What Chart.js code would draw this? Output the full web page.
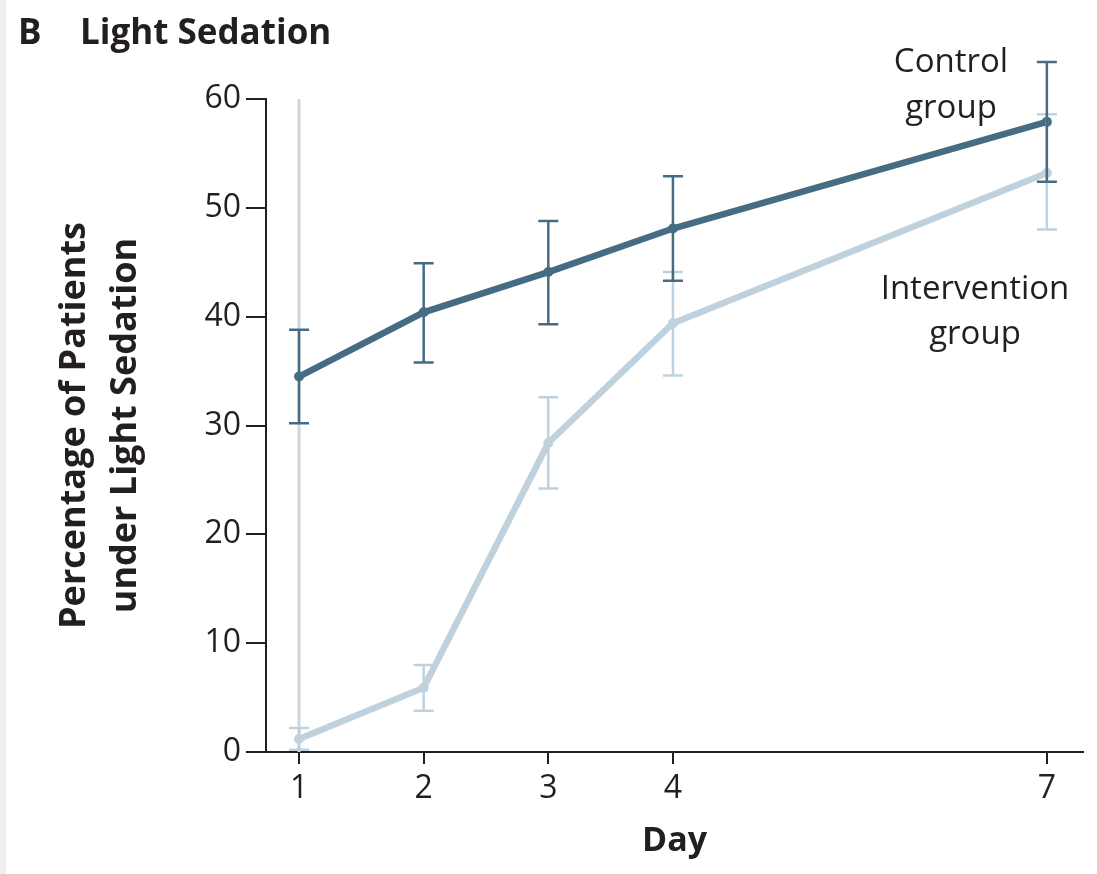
<!DOCTYPE html>
<html>
<head>
<meta charset="utf-8">
<title>Light Sedation</title>
<script src="https://cdn.jsdelivr.net/npm/chart.js@4.4.0/dist/chart.umd.min.js"></script>
<style>
  html, body { margin: 0; padding: 0; background: #fff; }
  canvas { display: block; }
</style>
</head>
<body>
<canvas id="myChart" width="1097" height="874"></canvas>
<script>
'use strict';

const days = [1, 2, 3, 4, 7];
const dayTicks = [1, 2, 3, 4, 7];
const yTicks = [0, 10, 20, 30, 40, 50, 60];

const controlMean = [34.5, 40.4, 44.1, 48.1, 57.9];
const controlLow = [30.2, 35.8, 39.3, 43.3, 52.4];
const controlHigh = [38.8, 44.9, 48.8, 52.9, 63.4];

const interventionMean = [1.2, 5.9, 28.4, 39.4, 53.2];
const interventionLow = [0.2, 3.8, 24.2, 34.6, 48.0];
const interventionHigh = [2.2, 8.0, 32.6, 44.1, 58.6];

// the faint vertical rule running up from day 1
const guideDay = 1;
const guideRange = [0, 60];

const darkBlue = '#466c84';
const lightBlue = '#bfd1dd';
const guideGrey = '#d3d6d9';
const inkColor = '#231f20';
const fontFamily = '"Open Sans", "DejaVu Sans", sans-serif';

const ctx = document.getElementById('myChart').getContext('2d');

function toPoints(xs, ys) {
  let pts = [];
  for (let i = 0; i < xs.length; i++) {
    pts.push({ x: xs[i], y: ys[i] });
  }
  return pts;
}

// error bars, drawn through the chart's scales
const errorBars = {
  id: 'errorBars',
  afterDatasetsDraw(chart) {
    const x = chart.scales.x;
    const y = chart.scales.y;
    const c = chart.ctx;
    const sets = [
      { low: interventionLow, high: interventionHigh, color: lightBlue },
      { low: controlLow, high: controlHigh, color: darkBlue }
    ];
    c.save();
    c.lineWidth = 2.5;
    for (let s of sets) {
      c.strokeStyle = s.color;
      for (let i = 0; i < days.length; i++) {
        let px = x.getPixelForValue(days[i]);
        let top = y.getPixelForValue(s.high[i]);
        let bot = y.getPixelForValue(s.low[i]);
        c.beginPath();
        c.moveTo(px, top);
        c.lineTo(px, bot);
        c.moveTo(px - 10, top);
        c.lineTo(px + 10, top);
        c.moveTo(px - 10, bot);
        c.lineTo(px + 10, bot);
        c.stroke();
      }
    }
    c.restore();
  }
};

// panel title and the in-plot group labels
const labels = {
  id: 'labels',
  beforeDraw(chart) {
    const c = chart.ctx;
    c.save();
    c.fillStyle = '#fff';
    c.fillRect(0, 0, chart.width, chart.height);
    c.fillStyle = '#efefef';
    c.fillRect(0, 0, 6, chart.height);
    c.restore();
  },
  afterDraw(chart) {
    const c = chart.ctx;
    c.save();
    c.fillStyle = inkColor;
    c.textBaseline = 'alphabetic';
    c.textAlign = 'left';
    c.font = 'bold 35px ' + fontFamily;
    c.fillText('B', 18, 44);
    c.fillText('Light Sedation', 80, 44);

    c.font = '33px ' + fontFamily;
    c.textAlign = 'center';
    c.fillText('Control', 951, 72);
    c.fillText('group', 951, 118);
    c.fillText('Intervention', 975, 299);
    c.fillText('group', 975, 344);
    c.restore();
  }
};

const myChart = new Chart(ctx, {
  type: 'line',
  data: {
    datasets: [
      {
        label: 'Control group',
        data: toPoints(days, controlMean),
        borderColor: darkBlue,
        backgroundColor: darkBlue,
        borderWidth: 6.5,
        pointRadius: 5,
        pointBorderWidth: 0,
        clip: false,
        order: 1
      },
      {
        label: 'Intervention group',
        data: toPoints(days, interventionMean),
        borderColor: lightBlue,
        backgroundColor: lightBlue,
        borderWidth: 6.5,
        pointRadius: 5,
        pointBorderWidth: 0,
        clip: false,
        order: 2
      },
      {
        label: 'guide',
        data: toPoints([guideDay, guideDay], guideRange),
        borderColor: guideGrey,
        borderWidth: 3,
        pointRadius: 0,
        clip: false,
        order: 3
      }
    ]
  },
  options: {
    responsive: false,
    animation: false,
    layout: { padding: { top: 99, right: 14, bottom: 0, left: 0 } },
    plugins: {
      legend: { display: false },
      tooltip: { enabled: false }
    },
    scales: {
      x: {
        type: 'linear',
        min: 0.735,
        max: 7.29,
        afterBuildTicks(scale) {
          scale.ticks = dayTicks.map(v => ({ value: v }));
        },
        afterFit(scale) {
          scale.height = 122;
        },
        grid: {
          drawOnChartArea: false,
          drawTicks: true,
          tickLength: 12,
          color: inkColor,
          lineWidth: 2
        },
        border: { display: true, color: inkColor, width: 2 },
        ticks: {
          autoSkip: false,
          maxRotation: 0,
          padding: 6,
          color: inkColor,
          font: { family: fontFamily, size: 32 }
        },
        title: {
          display: true,
          text: 'Day',
          color: inkColor,
          font: { family: fontFamily, size: 34, weight: 'bold', lineHeight: 1.2 },
          padding: { top: 0, bottom: 12 }
        }
      },
      y: {
        type: 'linear',
        min: 0,
        max: 60,
        afterBuildTicks(scale) {
          scale.ticks = yTicks.map(v => ({ value: v }));
        },
        afterFit(scale) {
          scale.width = 266;
        },
        grid: {
          drawOnChartArea: false,
          drawTicks: true,
          tickLength: 20,
          color: inkColor,
          lineWidth: 2
        },
        border: { display: true, color: inkColor, width: 2 },
        ticks: {
          padding: 5,
          color: inkColor,
          font: { family: fontFamily, size: 32 }
        },
        title: {
          display: true,
          text: ['Percentage of Patients', 'under Light Sedation'],
          color: inkColor,
          font: { family: fontFamily, size: 36, weight: 'bold', lineHeight: 1.4 },
          padding: { top: 50, bottom: 0 }
        }
      }
    }
  },
  plugins: [errorBars, labels]
});
</script>
</body>
</html>
